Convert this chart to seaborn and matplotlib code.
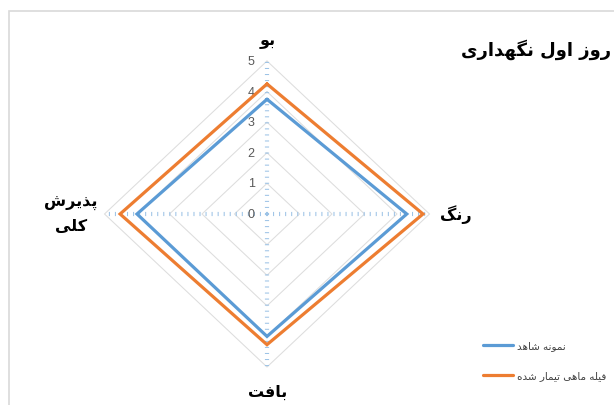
import numpy as np
import pandas as pd
import matplotlib
matplotlib.use("Agg")
import matplotlib.pyplot as plt
import seaborn as sns
from matplotlib.patches import Rectangle

# ---------------- data ----------------
categories = ["بو", "رنگ", "بافت", "پذیرش\nکلی"]
series_names = ["نمونه شاهد", "فیله ماهی تیمار شده"]
control_values = [3.75, 4.3, 4.0, 4.0]
treated_values = [4.25, 4.8, 4.27, 4.52]
tick_values = [0, 1, 2, 3, 4, 5]
title_text = "روز اول نگهداری"
colors = ["#5B9BD5", "#ED7D31"]

# ---------------- simple Persian shaping ----------------
FORMS = {
    'ا': ('\uFE8D', '\uFE8E', None, None),
    'ب': ('\uFE8F', '\uFE90', '\uFE91', '\uFE92'),
    'ت': ('\uFE95', '\uFE96', '\uFE97', '\uFE98'),
    'د': ('\uFEA9', '\uFEAA', None, None),
    'ذ': ('\uFEAB', '\uFEAC', None, None),
    'ر': ('\uFEAD', '\uFEAE', None, None),
    'ز': ('\uFEAF', '\uFEB0', None, None),
    'ش': ('\uFEB5', '\uFEB6', '\uFEB7', '\uFEB8'),
    'ف': ('\uFED1', '\uFED2', '\uFED3', '\uFED4'),
    'ل': ('\uFEDD', '\uFEDE', '\uFEDF', '\uFEE0'),
    'م': ('\uFEE1', '\uFEE2', '\uFEE3', '\uFEE4'),
    'ن': ('\uFEE5', '\uFEE6', '\uFEE7', '\uFEE8'),
    'ه': ('\uFEE9', '\uFEEA', '\uFEEB', '\uFEEC'),
    'و': ('\uFEED', '\uFEEE', None, None),
    'پ': ('\uFB56', '\uFB57', '\uFB58', '\uFB59'),
    'گ': ('\uFB92', '\uFB93', '\uFB94', '\uFB95'),
    'ک': ('\uFB8E', '\uFB8F', '\uFB90', '\uFB91'),
    'ی': ('\uFBFC', '\uFBFD', '\uFBFE', '\uFBFF'),
}


def dual(c):
    return c in FORMS and FORMS[c][2] is not None


def shape_line(s):
    out = []
    for i, c in enumerate(s):
        if c not in FORMS:
            out.append(c)
            continue
        prev = s[i - 1] if i > 0 else ''
        nxt = s[i + 1] if i + 1 < len(s) else ''
        jp = dual(prev)
        jn = dual(c) and nxt in FORMS
        iso, fin, ini, med = FORMS[c]
        if jp and jn:
            out.append(med)
        elif jp:
            out.append(fin)
        elif jn:
            out.append(ini)
        else:
            out.append(iso)
    return ''.join(out)[::-1]


def shape(s):
    return '\n'.join(shape_line(l) for l in s.split('\n'))


# ---------------- figure ----------------
sns.set_theme(style="white")
plt.rcParams['font.family'] = ['DejaVu Sans']

W, H = 614, 406
fig = plt.figure(figsize=(W / 100, H / 100), dpi=100)
ax = fig.add_axes([0, 0, 1, 1])
ax.set_axis_off()

cx, cy = 267.0, 215.0      # pixel centre
sx, sy = 32.5, 30.6        # pixels per unit
ax.set_xlim(-cx / sx, (W - cx) / sx)
ax.set_ylim(-(H - cy) / sy, cy / sy)

n = len(categories)
angles = np.pi / 2 - np.arange(n) * 2 * np.pi / n   # clockwise from top
ux = np.round(np.cos(angles), 12)
uy = np.round(np.sin(angles), 12)

rmax = tick_values[-1]
# grid rings
for t in tick_values[1:]:
    gx = np.append(t * ux, t * ux[0])
    gy = np.append(t * uy, t * uy[0])
    ax.plot(gx, gy, color="#DDDDDD", lw=0.75, zorder=1)

# spokes (dotted light blue)
for i in range(n):
    ax.plot([0, rmax * ux[i]], [0, rmax * uy[i]], color="#9DC3E6", lw=3.0,
            dashes=(0.25, 1.2), dash_capstyle='butt', zorder=1)

# tick labels
for t in tick_values:
    ax.text(-0.38, t, str(t), ha='right', va='center', fontsize=9,
            color="#595959", family=['Liberation Sans', 'DejaVu Sans'], zorder=3)

# data
rows = []
for name, vals in zip(series_names, [control_values, treated_values]):
    v = np.array(vals + vals[:1], dtype=float)
    xs = v * np.append(ux, ux[0])
    ys = v * np.append(uy, uy[0])
    for k, (xx, yy) in enumerate(zip(xs, ys)):
        rows.append({"series": name, "order": k, "x": xx, "y": yy})
df = pd.DataFrame(rows)
sns.lineplot(data=df, x="x", y="y", hue="series", units="series",
             estimator=None, sort=False, palette=colors, lw=2.3,
             legend=False, ax=ax, zorder=4)
for line in ax.lines[-2:]:
    line.set_solid_joinstyle('miter')


def px(x, y):
    return (x / W, 1 - y / H)


# category labels
lab_pos = [(268, 41), (456, 215), (268, 392), (71, 215)]
for lab, (lx, ly) in zip(categories, lab_pos):
    fig.text(*px(lx, ly), shape(lab), ha='center', va='center', fontsize=11.5,
             fontweight='bold', color='black', linespacing=1.6)

# title
fig.text(*px(611, 50), shape(title_text), ha='right', va='center', fontsize=13,
         fontweight='bold', color='black')

# legend
leg_y = [346, 376]
for name, c, yy in zip(series_names, colors, leg_y):
    fig.add_artist(plt.Line2D([483 / W, 513 / W], [1 - yy / H, 1 - yy / H],
                              color=c, lw=2.3))
    fig.text(*px(517, yy), shape(name), ha='left', va='center', fontsize=7.5,
             color='#404040')

# chart border
fig.add_artist(Rectangle((8.5 / W, -0.1), 1.2, 1 - 12 / H + 0.1,
                         transform=fig.transFigure, fill=False,
                         edgecolor="#D9D9D9", lw=1.2))

fig.savefig("out.png", dpi=100)
